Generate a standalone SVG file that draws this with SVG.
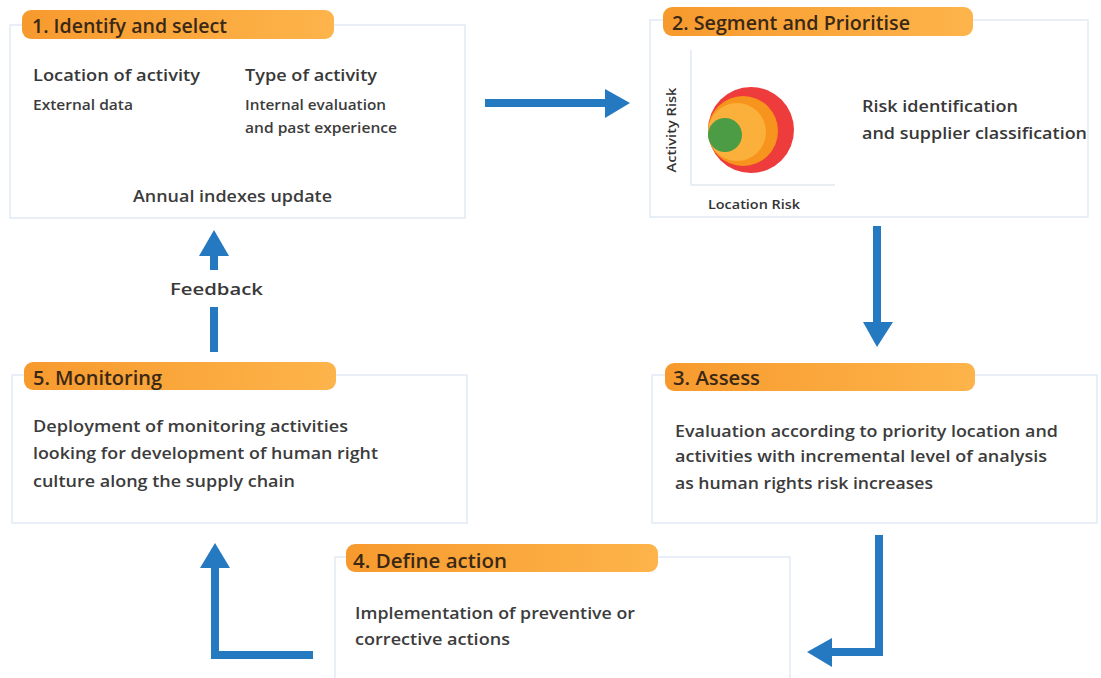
<svg xmlns="http://www.w3.org/2000/svg" width="1101" height="678" viewBox="0 0 1101 678">
<defs>
<linearGradient id="hdr" x1="0" y1="0" x2="1" y2="0">
<stop offset="0" stop-color="#f79a2e"/>
<stop offset="1" stop-color="#fdb44a"/>
</linearGradient>
<style>
.frame{fill:none;stroke:#e2eaf3;stroke-width:1.5}
.hdr{fill:url(#hdr)}
text{font-family:"Open Sans",Lato,sans-serif;font-weight:600}
.ht{font-size:19px;fill:#3a2816}
.sub{font-size:17px;fill:#383838}
.body{font-size:16.5px;fill:#3c3c3c}
.small{font-size:14.5px;fill:#3c3c3c}
.tiny{font-size:12.5px;fill:#333}
.ln{fill:none;stroke:#2479c0;stroke-width:8}
.hd{fill:#2479c0}
</style>
</defs>
<rect width="1101" height="678" fill="#ffffff"/>

<g id="node1">
<rect class="frame" x="10" y="25" width="455" height="193"/>
<rect class="hdr" x="22" y="10" width="312" height="29" rx="9"/>
<text class="ht" x="32" y="33" textLength="195" lengthAdjust="spacingAndGlyphs">1. Identify and select</text>
<text class="sub" x="33" y="81" textLength="167" lengthAdjust="spacingAndGlyphs">Location of activity</text>
<text class="sub" x="245" y="81" textLength="132" lengthAdjust="spacingAndGlyphs">Type of activity</text>
<text class="small" x="33" y="110" textLength="100" lengthAdjust="spacingAndGlyphs">External data</text>
<text class="small" x="245" y="110" textLength="141" lengthAdjust="spacingAndGlyphs">Internal evaluation</text>
<text class="small" x="245" y="133" textLength="152" lengthAdjust="spacingAndGlyphs">and past experience</text>
<text class="body" x="133" y="202" textLength="199" lengthAdjust="spacingAndGlyphs">Annual indexes update</text>
</g>

<g id="node2">
<rect class="frame" x="650" y="20" width="438" height="197"/>
<rect class="hdr" x="663" y="7" width="310" height="29" rx="9"/>
<text class="ht" x="672" y="30" textLength="238" lengthAdjust="spacingAndGlyphs">2. Segment and Prioritise</text>
<line x1="691" y1="50" x2="691" y2="185" stroke="#e0e8f1" stroke-width="1.5"/>
<line x1="691" y1="185" x2="835" y2="185" stroke="#e0e8f1" stroke-width="1.5"/>
<circle cx="751" cy="130" r="43" fill="#ee3b3b"/>
<circle cx="743" cy="131" r="35" fill="#f7941d"/>
<circle cx="737" cy="132" r="29" fill="#fbb03b"/>
<circle cx="725" cy="135" r="17" fill="#4b9c45"/>
<text class="tiny" transform="translate(676,130) rotate(-90)" text-anchor="middle" textLength="85" lengthAdjust="spacingAndGlyphs">Activity Risk</text>
<text class="tiny" x="708" y="209" textLength="92" lengthAdjust="spacingAndGlyphs">Location Risk</text>
<text class="sub" x="862" y="112" textLength="156" lengthAdjust="spacingAndGlyphs">Risk identification</text>
<text class="sub" x="862" y="139" textLength="225" lengthAdjust="spacingAndGlyphs">and supplier classification</text>
</g>

<g id="node3">
<rect class="frame" x="652" y="375" width="445" height="148"/>
<rect class="hdr" x="665" y="363" width="310" height="28" rx="9"/>
<text class="ht" x="673" y="385" textLength="87" lengthAdjust="spacingAndGlyphs">3. Assess</text>
<text class="body" x="675" y="437" textLength="383" lengthAdjust="spacingAndGlyphs">Evaluation according to priority location and</text>
<text class="body" x="675" y="462" textLength="372" lengthAdjust="spacingAndGlyphs">activities with incremental level of analysis</text>
<text class="body" x="675" y="489" textLength="258" lengthAdjust="spacingAndGlyphs">as human rights risk increases</text>
</g>

<g id="node4">
<rect class="frame" x="335" y="557" width="455" height="140"/>
<rect class="hdr" x="346" y="544" width="312" height="28" rx="9"/>
<text class="ht" x="353" y="568" textLength="154" lengthAdjust="spacingAndGlyphs">4. Define action</text>
<text class="body" x="355" y="619" textLength="280" lengthAdjust="spacingAndGlyphs">Implementation of preventive or</text>
<text class="body" x="355" y="645" textLength="155" lengthAdjust="spacingAndGlyphs">corrective actions</text>
</g>

<g id="node5">
<rect class="frame" x="12" y="375" width="455" height="148"/>
<rect class="hdr" x="24" y="362" width="312" height="28" rx="9"/>
<text class="ht" x="33" y="385" textLength="129" lengthAdjust="spacingAndGlyphs">5. Monitoring</text>
<text class="body" x="33" y="432" textLength="315" lengthAdjust="spacingAndGlyphs">Deployment of monitoring activities</text>
<text class="body" x="33" y="459" textLength="345" lengthAdjust="spacingAndGlyphs">looking for development of human right</text>
<text class="body" x="33" y="487" textLength="262" lengthAdjust="spacingAndGlyphs">culture along the supply chain</text>
</g>

<g id="connectors">
<line class="ln" x1="485" y1="103" x2="607" y2="103" stroke-width="7"/>
<polygon class="hd" points="605,89 630,103 605,118"/>

<line class="ln" x1="877" y1="226" x2="877" y2="324"/>
<polygon class="hd" points="863,322 893,322 877,347"/>

<polyline class="ln" points="879,535 879,652 830,652"/>
<polygon class="hd" points="832,638 807,652 832,667"/>

<polyline class="ln" points="313,655 215,655 215,566"/>
<polygon class="hd" points="200,568 215,543 230,568"/>

<line class="ln" x1="214" y1="352" x2="214" y2="307" stroke-width="9"/>
<line class="ln" x1="214" y1="270" x2="214" y2="254" stroke-width="9"/>
<polygon class="hd" points="199,256 214,230 229,256"/>
<text class="sub" x="170" y="295" font-size="18" textLength="93" lengthAdjust="spacingAndGlyphs">Feedback</text>
</g>
</svg>
